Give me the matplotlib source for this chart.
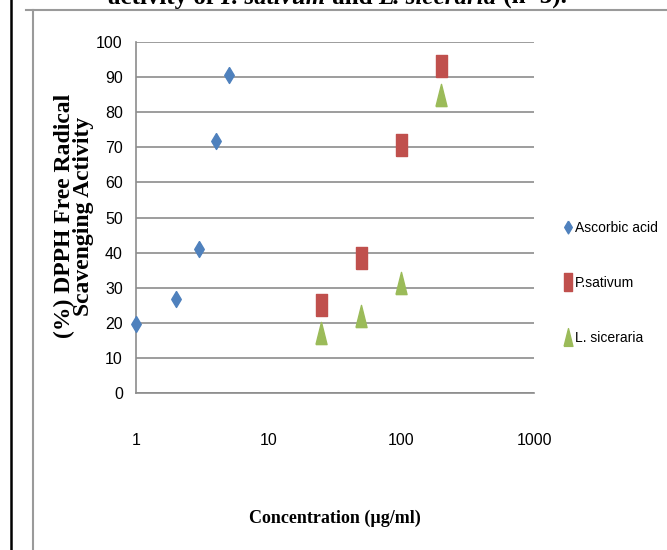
import numpy as np
import matplotlib.pyplot as plt
from matplotlib.lines import Line2D

# data
conc_ascorbic = [1, 2, 3, 4, 5]
act_ascorbic = [19.6, 26.7, 40.9, 71.7, 90.6]
conc_extract = [25, 50, 100, 200]
act_sativum = [25.0, 38.5, 70.6, 93.1]
act_siceraria = [17.0, 22.0, 31.2, 84.8]
labels = ["Ascorbic acid", "P.sativum", "L. siceraria"]
xticks = [1, 10, 100, 1000]
yticks = list(range(0, 101, 10))

sans = ["Liberation Sans", "DejaVu Sans"]
serif = ["Liberation Serif", "DejaVu Serif"]

# tall markers (picture is squeezed horizontally)
diamond = [(0, 1), (0.6, 0), (0, -1), (-0.6, 0), (0, 1)]
rect = [(-0.48, -1), (0.48, -1), (0.48, 1), (-0.48, 1), (-0.48, -1)]
tri = [(-0.5, -1), (0.5, -1), (0, 1), (-0.5, -1)]

fig = plt.figure(figsize=(6.67, 5.5), dpi=100)
ax = fig.add_axes([136 / 667, 1 - 393 / 550, (534 - 136) / 667, (393 - 42) / 550])

ax.plot(conc_ascorbic, act_ascorbic, ls="none", marker=diamond, ms=11.5,
        color="#4F81BD", mec="#4F81BD", label=labels[0], clip_on=False, zorder=3)
ax.plot(conc_extract, act_sativum, ls="none", marker=rect, ms=16.5,
        color="#C0504D", mec="#C0504D", label=labels[1], clip_on=False, zorder=3)
ax.plot(conc_extract, act_siceraria, ls="none", marker=tri, ms=16,
        color="#9BBB59", mec="#9BBB59", label=labels[2], clip_on=False, zorder=3)

ax.set_xscale("log")
ax.set_xlim(1, 1000)
ax.set_ylim(0, 100)
ax.set_xticks(xticks)
ax.set_xticklabels([str(v) for v in xticks])
ax.set_yticks(yticks)
ax.set_yticklabels([str(v) for v in yticks])
ax.minorticks_off()
ax.tick_params(axis="x", length=0, pad=29, labelsize=11.5)
ax.tick_params(axis="y", length=0, pad=9.5, labelsize=11.5)
for lab in ax.get_xticklabels() + ax.get_yticklabels():
    lab.set_family(sans)
ax.grid(axis="y", color="#8c8c8c", lw=1.2)
ax.set_axisbelow(True)
for s in ["top", "right"]:
    ax.spines[s].set_visible(False)
for s in ["left", "bottom"]:
    ax.spines[s].set_color("#8c8c8c")
    ax.spines[s].set_linewidth(1.2)

leg = ax.legend(loc="center left", bbox_to_anchor=(1.06, 0.313), frameon=False,
                prop={"family": sans, "size": 10}, labelspacing=2.95,
                handlelength=0.6, handletextpad=0.25, markerscale=0.8,
                borderaxespad=0)

# axis titles
fig.text(335 / 667, 1 - 518 / 550, "Concentration (µg/ml)", ha="center", va="center",
         family=serif, weight="bold", fontsize=13)
fig.text(74 / 667, 1 - 216 / 550, "(%) DPPH Free Radical\nScavenging Activity",
         rotation=90, ha="center", va="center", multialignment="center",
         family=serif, weight="bold", fontsize=17, linespacing=0.9)

# clipped caption at the very top of the page
parts = [("activity of ", "normal"), ("P. sativum", "italic"), (" and ", "normal"),
         ("L. siceraria", "italic"), (" (n=3).", "normal")]
caption = [fig.text(0, 0, txt, ha="left", va="baseline", family=serif,
                    weight="bold", style=st, fontsize=18) for txt, st in parts]
fig.canvas.draw()
r = fig.canvas.get_renderer()
x0 = 108
for tt in caption:
    tt.set_position((x0 / 667, 1 - 4 / 550))
    x0 = tt.get_window_extent(r).x1

# frame lines from the page
fig.add_artist(Line2D([11 / 667, 11 / 667], [0, 1], color="black", lw=1.8,
                      transform=fig.transFigure))
fig.add_artist(Line2D([33 / 667, 33 / 667], [0, 1 - 10 / 550], color="#9a9a9a", lw=1.5,
                      transform=fig.transFigure))
fig.add_artist(Line2D([26 / 667, 1], [1 - 10 / 550, 1 - 10 / 550], color="#9a9a9a", lw=1.5,
                      transform=fig.transFigure))

fig.savefig("out.png", dpi=100)
